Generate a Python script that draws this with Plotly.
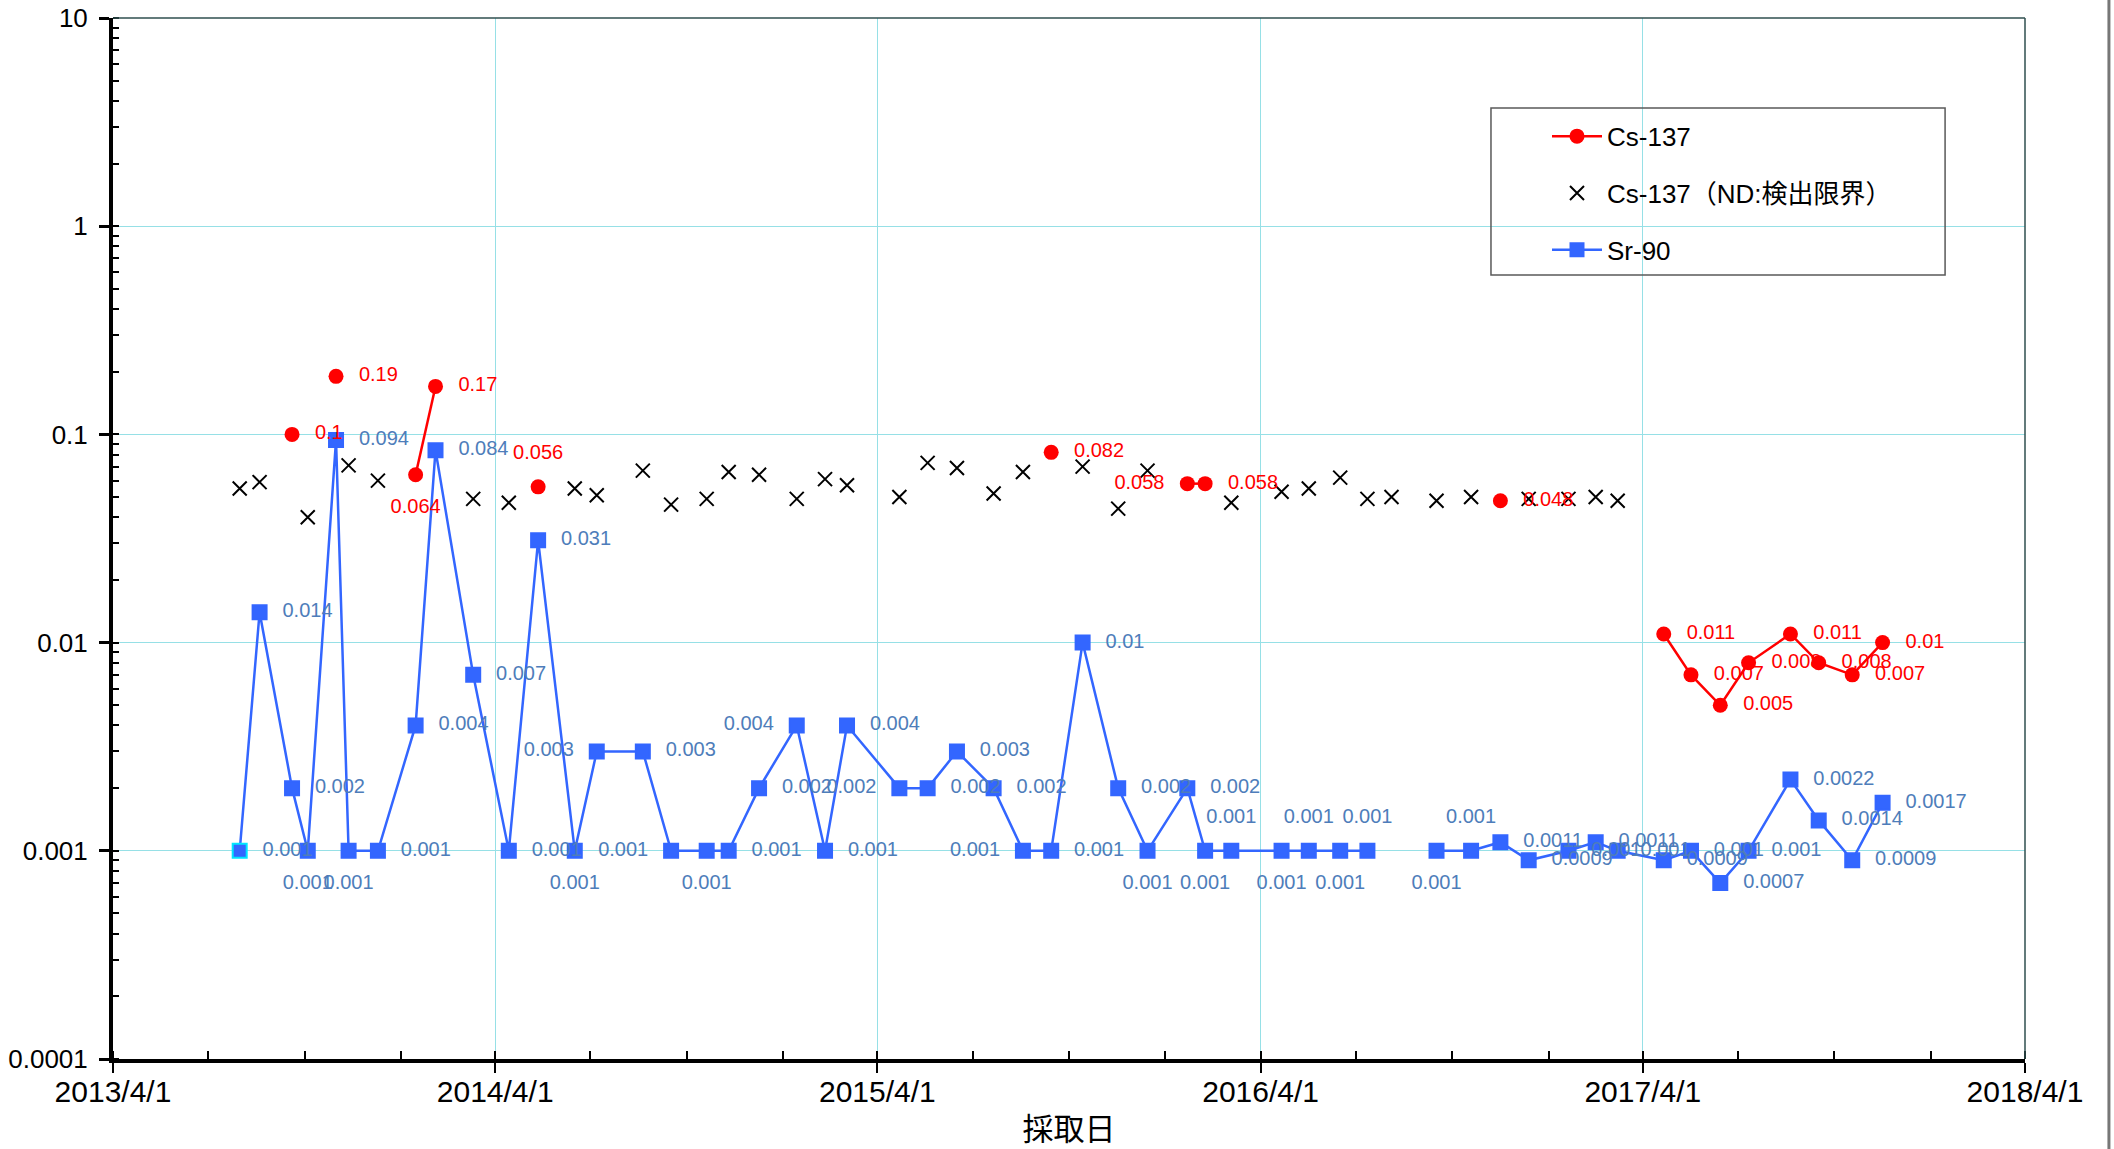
import plotly.graph_objects as go

# ---------------- data ----------------
dates = [
    "2013-07-31", "2013-08-19", "2013-09-19", "2013-10-04", "2013-10-31", "2013-11-12",
    "2013-12-10", "2014-01-15", "2014-02-03", "2014-03-11", "2014-04-14", "2014-05-12",
    "2014-06-16", "2014-07-07", "2014-08-20", "2014-09-16", "2014-10-20", "2014-11-10",
    "2014-12-09", "2015-01-14", "2015-02-10", "2015-03-03", "2015-04-22", "2015-05-19",
    "2015-06-16", "2015-07-21", "2015-08-18", "2015-09-14", "2015-10-14", "2015-11-17",
    "2015-12-15", "2016-01-22", "2016-02-08", "2016-03-04", "2016-04-21", "2016-05-17",
    "2016-06-16", "2016-07-12", "2016-08-04", "2016-09-16", "2016-10-19", "2016-11-16",
    "2016-12-13", "2017-01-20", "2017-02-15", "2017-03-08", "2017-04-21", "2017-05-17",
    "2017-06-14", "2017-07-11", "2017-08-20", "2017-09-16", "2017-10-18", "2017-11-16",
]

sr90 = [
    0.001, 0.014, 0.002, 0.001, 0.094, 0.001,
    0.001, 0.004, 0.084, 0.007, 0.001, 0.031,
    0.001, 0.003, 0.003, 0.001, 0.001, 0.001,
    0.002, 0.004, 0.001, 0.004, 0.002, 0.002,
    0.003, 0.002, 0.001, 0.001, 0.01, 0.002,
    0.001, 0.002, 0.001, 0.001, 0.001, 0.001,
    0.001, 0.001, None, 0.001, 0.001, 0.0011,
    0.0009, 0.001, 0.0011, 0.001, 0.0009, 0.001,
    0.0007, 0.001, 0.0022, 0.0014, 0.0009, 0.0017,
]

cs137 = [
    None, None, 0.1, None, 0.19, None,
    None, 0.064, 0.17, None, None, 0.056,
    None, None, None, None, None, None,
    None, None, None, None, None, None,
    None, None, None, 0.082, None, None,
    None, 0.058, 0.058, None, None, None,
    None, None, None, None, None, 0.048,
    None, None, None, None, 0.011, 0.007,
    0.005, 0.008, 0.011, 0.008, 0.007, 0.01,
]

cs137_nd = [
    0.055, 0.059, None, 0.040, None, 0.071,
    0.060, None, None, 0.049, 0.047, None,
    0.055, 0.051, 0.067, 0.046, 0.049, 0.066,
    0.064, 0.049, 0.061, 0.057, 0.050, 0.073,
    0.069, 0.052, 0.066, None, 0.070, 0.044,
    0.067, None, None, 0.047, 0.053, 0.055,
    0.062, 0.049, 0.050, 0.048, 0.050, None,
    0.049, 0.049, 0.050, 0.048, None, None,
    None, None, None, None, None, None,
]

series_names = ["Cs-137", "Cs-137（ND:検出限界）", "Sr-90"]
x_title = "採取日"

# ---------------- styles ----------------
# label placement codes (R=right, L=left, T=top, B=bottom), aligned with dates
sr_label_side = [
    "R", "R", "R", "B", "R", "B",
    "R", "R", "R", "R", "R", "R",
    "B", "L", "R", "L", "B", "R",
    "R", "L", "R", "R", "L", "R",
    "R", "R", "L", "R", "R", "R",
    "B", "R", "B", "T", "B", "T",
    "B", "T", "R", "B", "T", "R",
    "R", "R", "R", "R", "R", "R",
    "R", "R", "R", "R", "R", "R",
]
cs_label_side = [
    "R", "R", "R", "R", "R", "R",
    "R", "B", "R", "R", "R", "T",
    "R", "R", "R", "R", "R", "R",
    "R", "R", "R", "R", "R", "R",
    "R", "R", "R", "R", "R", "R",
    "R", "L", "R", "R", "R", "R",
    "R", "R", "R", "R", "R", "R",
    "R", "R", "R", "R", "R", "R",
    "R", "R", "R", "R", "R", "R",
]
SIDE = {"R": "middle right", "L": "middle left", "T": "top center", "B": "bottom center"}

RED = "#FF0000"
BLUE = "#3366FF"
SR_LABEL = "#4E7DBA"
GRID = "#96E0E6"
FONT = "Liberation Sans, Arial, Noto Sans CJK JP, sans-serif"


def fmt(v):
    return "" if v is None else f"{v:g}"


def pick(xs, ys, extra):
    out_x, out_y, out_e = [], [], []
    for x, y, e in zip(xs, ys, extra):
        if y is not None:
            out_x.append(x)
            out_y.append(y)
            out_e.append(e)
    return out_x, out_y, out_e


fig = go.Figure()

# Cs-137 (detected)
fig.add_trace(go.Scatter(
    x=dates, y=cs137, name=series_names[0], mode="lines+markers",
    connectgaps=False, legendgroup="a",
    line=dict(color=RED, width=2.5),
    marker=dict(symbol="circle", size=15, color=RED),
))

# Cs-137 ND
fig.add_trace(go.Scatter(
    x=dates, y=cs137_nd, name=series_names[1], mode="markers", legendgroup="b",
    marker=dict(symbol="x-thin", size=14, color="black",
                line=dict(color="black", width=2)),
))

# Sr-90 (first sample's marker is outlined in cyan, as in the original)
sr_outline = [BLUE] * len(dates)
sr_outline[0] = "#00E5FF"
fig.add_trace(go.Scatter(
    x=dates, y=sr90, name=series_names[2], mode="lines+markers",
    connectgaps=False, legendgroup="c", showlegend=False,
    line=dict(color=BLUE, width=2.5),
    marker=dict(symbol="square", size=14, color=BLUE,
                line=dict(color=sr_outline, width=2)),
))
# legend entry for Sr-90 (no data, uniform styling)
fig.add_trace(go.Scatter(
    x=[None], y=[None], name=series_names[2], mode="lines+markers",
    legendgroup="c",
    line=dict(color=BLUE, width=2.5),
    marker=dict(symbol="square", size=15, color=BLUE),
))

# data labels (text-only traces; invisible markers give the label offset)
sx, sy, sp = pick(dates, sr90, sr_label_side)
fig.add_trace(go.Scatter(
    x=sx, y=sy, mode="markers+text", showlegend=False, hoverinfo="skip",
    text=[fmt(v) for v in sy], textposition=[SIDE[p] for p in sp],
    textfont=dict(family=FONT, size=20, color=SR_LABEL),
    marker=dict(size=35, color="rgba(0,0,0,0)"),
    cliponaxis=False,
))
cx, cy, cp = pick(dates, cs137, cs_label_side)
fig.add_trace(go.Scatter(
    x=cx, y=cy, mode="markers+text", showlegend=False, hoverinfo="skip",
    text=[fmt(v) for v in cy], textposition=[SIDE[p] for p in cp],
    textfont=dict(family=FONT, size=20, color=RED),
    marker=dict(size=35, color="rgba(0,0,0,0)"),
    cliponaxis=False,
))

fig.update_layout(
    width=2114, height=1149,
    margin=dict(l=113, r=89, t=18, b=90, autoexpand=False),
    paper_bgcolor="white", plot_bgcolor="white",
    font=dict(family=FONT, size=24, color="black"),
    showlegend=True,
    legend=dict(
        x=0.750, y=0.909, xanchor="left", yanchor="top",
        borderwidth=0, bgcolor="rgba(0,0,0,0)",
        font=dict(family=FONT, size=26, color="black"),
        itemwidth=50, tracegroupgap=20, traceorder="grouped",
    ),
    xaxis=dict(
        type="date", range=["2013-04-01", "2018-04-01"], automargin=False,
        tick0="2013-04-01", dtick="M12", tickformat="%Y/%-m/%-d",
        ticks="outside", ticklen=10, tickwidth=2, tickcolor="black",
        tickfont=dict(family=FONT, size=30, color="black"),
        ticklabelstandoff=-7,
        showgrid=True, gridcolor=GRID, gridwidth=1,
        showline=True, linecolor="black", linewidth=4,
        zeroline=False,
        minor=dict(dtick="M3", ticks="inside", ticklen=8, tickwidth=2,
                   tickcolor="black", showgrid=False),
        title=dict(text=x_title, font=dict(family="Noto Sans CJK JP", size=31, color="black"),
                   standoff=13),
    ),
    yaxis=dict(
        type="log", range=[-4, 1], dtick=1, exponentformat="none", automargin=False,
        ticks="outside", ticklen=10, tickwidth=3, tickcolor="black",
        tickfont=dict(family=FONT, size=26, color="black"),
        ticklabelstandoff=6,
        showgrid=True, gridcolor=GRID, gridwidth=1,
        showline=True, linecolor="black", linewidth=4,
        zeroline=False,
        minor=dict(dtick="D1", ticks="inside", ticklen=6, tickwidth=2,
                   tickcolor="black", showgrid=False),
    ),
    shapes=[
        # plot-area frame (top / right)
        dict(type="line", xref="paper", yref="paper", x0=0, x1=1, y0=1, y1=1,
             line=dict(color="#2F4F4F", width=1.5)),
        dict(type="line", xref="paper", yref="paper", x0=1, x1=1, y0=0, y1=1,
             line=dict(color="#2F4F4F", width=1.5)),
        # legend frame
        dict(type="rect", xref="paper", yref="paper", x0=0.7207, x1=0.9582, y0=0.7531, y1=0.9135,
             line=dict(color="#595959", width=1.5), fillcolor="rgba(0,0,0,0)", layer="above"),
        # chart-area edge
        dict(type="line", xref="paper", yref="paper", x0=1.0439, x1=1.0439, y0=-0.09, y1=1.02,
             line=dict(color="#777777", width=3)),
    ],
)

fig.write_html("out.html", config={"displayModeBar": False},
               post_script="document.body.style.margin='0';document.body.style.overflow='hidden';")
